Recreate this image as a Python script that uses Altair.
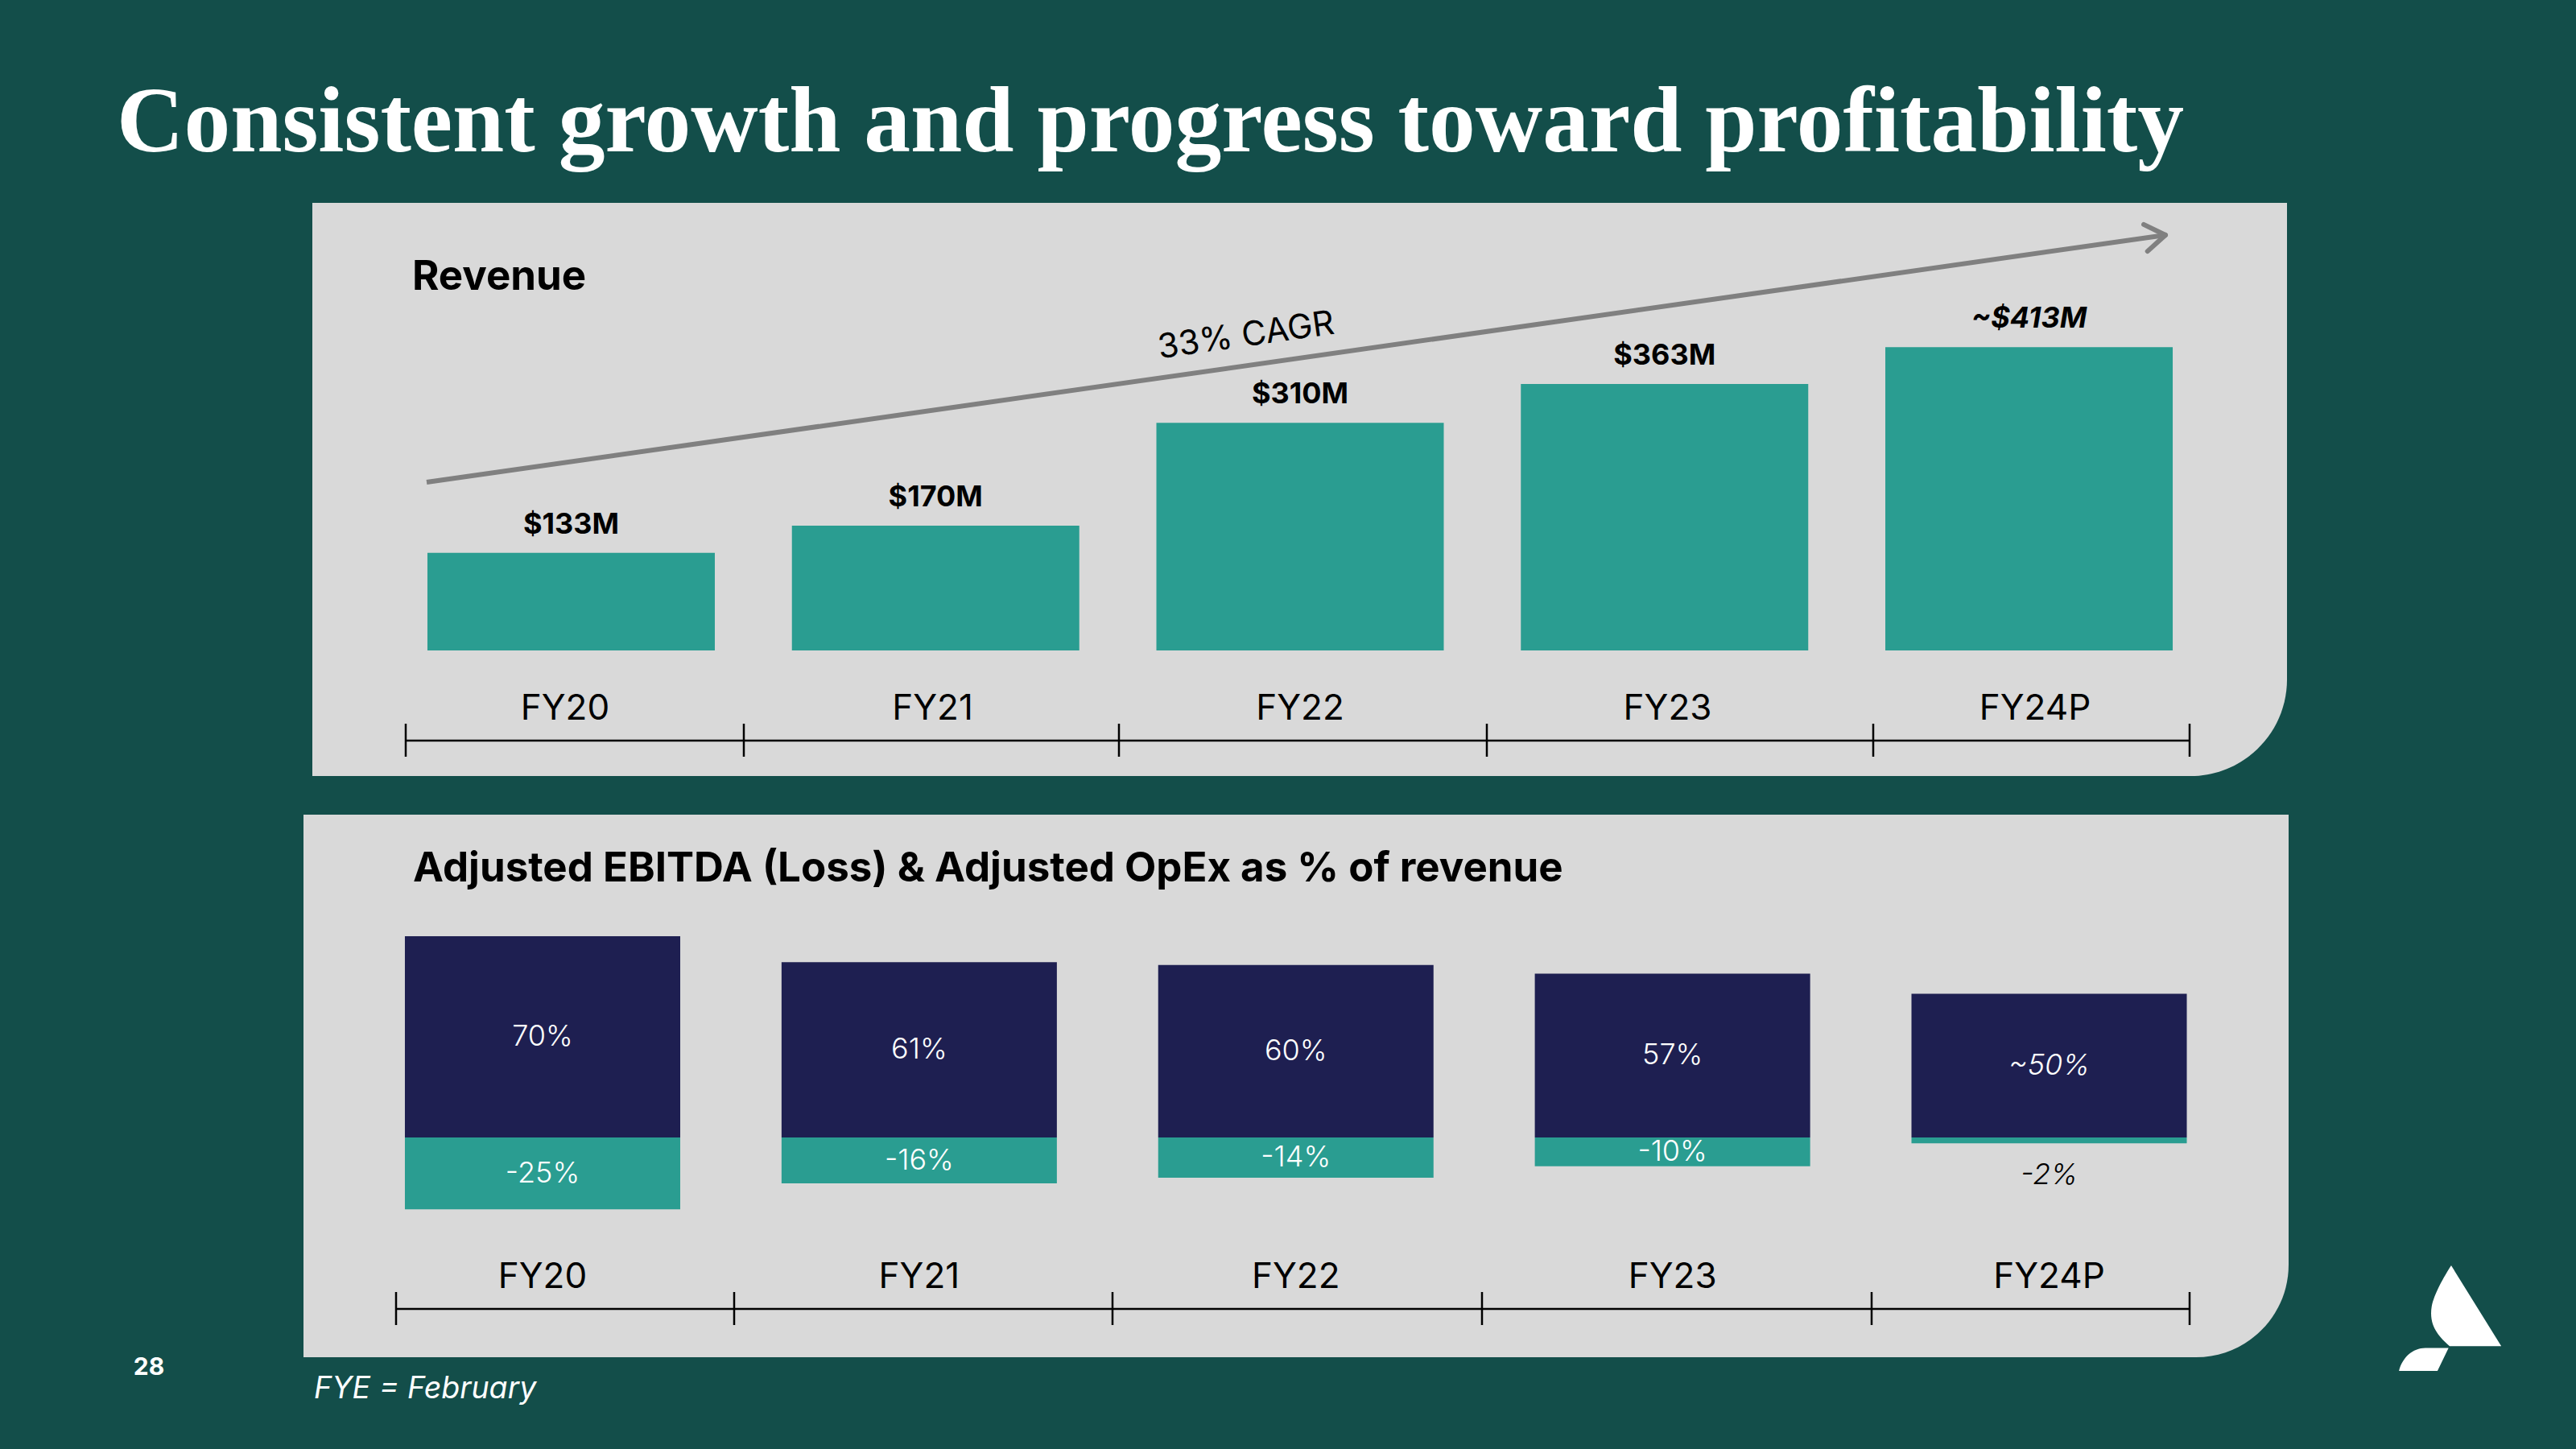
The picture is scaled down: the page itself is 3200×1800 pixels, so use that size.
import math
import altair as alt
import pandas as pd

# ---------------- data ----------------
years = ["FY20", "FY21", "FY22", "FY23", "FY24P"]
revenue = [133, 170, 310, 363, 413]
revenue_labels = ["$133M", "$170M", "$310M", "$363M", "~$413M"]
opex_pct = [70, 61, 60, 57, 50]
opex_labels = ["70%", "61%", "60%", "57%", "~50%"]
ebitda_pct = [-25, -16, -14, -10, -2]
ebitda_labels = ["-25%", "-16%", "-14%", "-10%", "-2%"]
projected = [False, False, False, False, True]

title_text = "Consistent growth and progress toward profitability"
rev_title = "Revenue"
ebitda_title = "Adjusted EBITDA (Loss) & Adjusted OpEx as % of revenue"
cagr_text = "33% CAGR"
footnote = "FYE = February"
page_no = "28"

# ---------------- style ----------------
BG = "#134E4A"
PANEL = "#D9D9D9"
TEAL = "#2A9D91"
NAVY = "#1E1F51"
GREY = "#808080"
SANS = "Inter"
SERIF = "Liberation Serif"

df = pd.DataFrame({
    "year": years,
    "revenue": revenue,
    "rev_label": revenue_labels,
    "opex": opex_pct,
    "opex_label": opex_labels,
    "ebitda": ebitda_pct,
    "ebitda_label": ebitda_labels,
    "projected": projected,
})

one = alt.Data(values=[{"k": 0}])
base = alt.Chart(df)

# scales
x_top = alt.X("year:N", sort=years, axis=None,
              scale=alt.Scale(domain=years, range=[475.1, 2738.9],
                              paddingInner=0.2115, paddingOuter=0.10575))
x_top_lab = alt.X("year:N", sort=years, axis=None,
                  scale=alt.Scale(type="point", domain=years, range=[694, 2520], padding=0))
y_top_s = alt.Scale(domain=[0, 500], range=[800, 344], nice=False)

x_bot = alt.X("year:N", sort=years, axis=None,
              scale=alt.Scale(domain=years, range=[432.05, 2771.45],
                              paddingInner=0.269, paddingOuter=0.1345))
y_bot_s = alt.Scale(domain=[-30, 80], range=[1512.1, 1119.4], nice=False)


def text_layer(txt, x, y, size, color="black", weight="normal", style="normal",
               align="left", font=SANS, angle=0):
    kw = dict(text=txt, font=font, fontSize=size, fontWeight=weight,
              align=align, baseline="alphabetic", color=color)
    if style != "normal":
        kw["fontStyle"] = style
    if angle:
        kw["angle"] = angle
        kw["baseline"] = "middle"
    return alt.Chart(one).mark_text(**kw).encode(x=alt.value(x), y=alt.value(y))


def rule(x1, y1, x2, y2, w=2.5, color="black", cap="butt"):
    return alt.Chart(one).mark_rule(strokeWidth=w, color=color, strokeCap=cap).encode(
        x=alt.value(x1), y=alt.value(y1), x2=alt.value(x2), y2=alt.value(y2))


layers = []

# panels
layers.append(alt.Chart(one).mark_rect(color=PANEL, cornerRadiusBottomRight=120).encode(
    x=alt.value(380), x2=alt.value(2833), y=alt.value(244), y2=alt.value(956)))
layers.append(alt.Chart(one).mark_rect(color=PANEL, cornerRadiusBottomRight=115).encode(
    x=alt.value(369), x2=alt.value(2835), y=alt.value(1004), y2=alt.value(1678)))

# titles / texts
layers.append(text_layer(title_text, 137, 180, 115.5, color="white", weight="bold", font=SERIF))
layers.append(text_layer(rev_title, 504, 352, 51, weight="bold"))
layers.append(text_layer(ebitda_title, 505, 1087, 51, weight="bold"))
layers.append(text_layer(page_no, 177, 1700, 30, color="white", weight="bold", align="center"))
layers.append(text_layer(footnote, 382, 1729, 37.5, color="white", style="italic"))

# CAGR arrow
ax0, ay0, ax1, ay1 = 522, 591, 2682, 284
layers.append(rule(ax0, ay0, ax1, ay1, w=6, color=GREY))
ang = math.atan2(ay1 - ay0, ax1 - ax0)
for d in (-1, 1):
    a = ang + math.pi + d * math.radians(34)
    layers.append(rule(ax1, ay1, ax1 + 30 * math.cos(a), ay1 + 30 * math.sin(a), w=6, color=GREY, cap="round"))
layers.append(text_layer(cagr_text, 1540, 409, 42, align="center",
                         angle=360 + math.degrees(ang)))

# revenue bars
layers.append(base.mark_bar(color=TEAL).encode(x=x_top, y=alt.Y("revenue:Q", scale=y_top_s, axis=None)))
layers.append(base.transform_filter("!datum.projected").mark_text(
    font=SANS, fontSize=36, fontWeight="bold", dy=-24, baseline="alphabetic", color="black"
).encode(x=x_top, y=alt.Y("revenue:Q", scale=y_top_s, axis=None), text="rev_label:N"))
layers.append(base.transform_filter("datum.projected").mark_text(
    font=SANS, fontSize=36, fontWeight="bold", fontStyle="italic", dy=-24, baseline="alphabetic", color="black"
).encode(x=x_top, y=alt.Y("revenue:Q", scale=y_top_s, axis=None), text="rev_label:N"))
layers.append(base.mark_text(font=SANS, fontSize=44, baseline="alphabetic", color="black").encode(
    x=x_top_lab, y=alt.value(886), text="year:N"))

# top axis line + ticks
layers.append(rule(496, 912, 2712, 912, w=2.5))
for tx in [496, 916, 1382, 1839, 2319, 2712]:
    layers.append(rule(tx, 891, tx, 932, w=2.5))

# EBITDA / OpEx bars
layers.append(base.mark_bar(color=NAVY).encode(x=x_bot, y=alt.Y("opex:Q", scale=y_bot_s, axis=None)))
layers.append(base.mark_bar(color=TEAL).encode(x=x_bot, y=alt.Y("ebitda:Q", scale=y_bot_s, axis=None)))
for proj, style in ((False, "normal"), (True, "italic")):
    flt = "datum.projected" if proj else "!datum.projected"
    kw = dict(font=SANS, fontSize=36, fontWeight=300, baseline="middle", color="white")
    if style == "italic":
        kw["fontStyle"] = "italic"
    layers.append(base.transform_filter(flt).transform_calculate(mid="datum.opex/2").mark_text(**kw).encode(
        x=x_bot, y=alt.Y("mid:Q", scale=y_bot_s, axis=None), text="opex_label:N"))
layers.append(base.transform_filter("datum.ebitda <= -5").transform_calculate(mid="datum.ebitda/2").mark_text(
    font=SANS, fontSize=36, fontWeight=300, baseline="middle", color="white"
).encode(x=x_bot, y=alt.Y("mid:Q", scale=y_bot_s, axis=None), text="ebitda_label:N"))
layers.append(base.transform_filter("datum.ebitda > -5").mark_text(
    font=SANS, fontSize=36, fontWeight=300, fontStyle="italic", baseline="middle", color="black", dy=40
).encode(x=x_bot, y=alt.Y("ebitda:Q", scale=y_bot_s, axis=None), text="ebitda_label:N"))
layers.append(base.mark_text(font=SANS, fontSize=44, baseline="alphabetic", color="black").encode(
    x=x_bot, y=alt.value(1592), text="year:N"))

# bottom axis line + ticks
layers.append(rule(484, 1618, 2712, 1618, w=2.5))
for tx in [484, 904, 1374, 1833, 2317, 2712]:
    layers.append(rule(tx, 1597, tx, 1638, w=2.5))

# logo
logo_path = ("M 0.03 -1 L 0.98 0.53 L 0 0.53 C -0.2 0.35 -0.4 0.15 -0.34 -0.22 "
             "C -0.3 -0.45 -0.1 -0.8 0.03 -1 Z "
             "M -0.02 0.565 L -0.23 1 L -0.96 1 C -0.9 0.75 -0.7 0.565 -0.46 0.565 Z")
layers.append(alt.Chart(one).mark_point(shape=logo_path, filled=True, color="white",
                                         opacity=1, size=131 * 131, strokeWidth=0).encode(
    x=alt.value(3035), y=alt.value(1629.5)))

chart = alt.layer(*layers).resolve_scale(x="independent", y="independent").properties(
    width=3184, height=1784, padding=0, autosize="none", background=BG
).configure_view(stroke=None)

chart.save("out.html", embed_options={"renderer": "svg", "actions": False,
                                      "defaultStyle": "body{background:#134E4A;}"})
